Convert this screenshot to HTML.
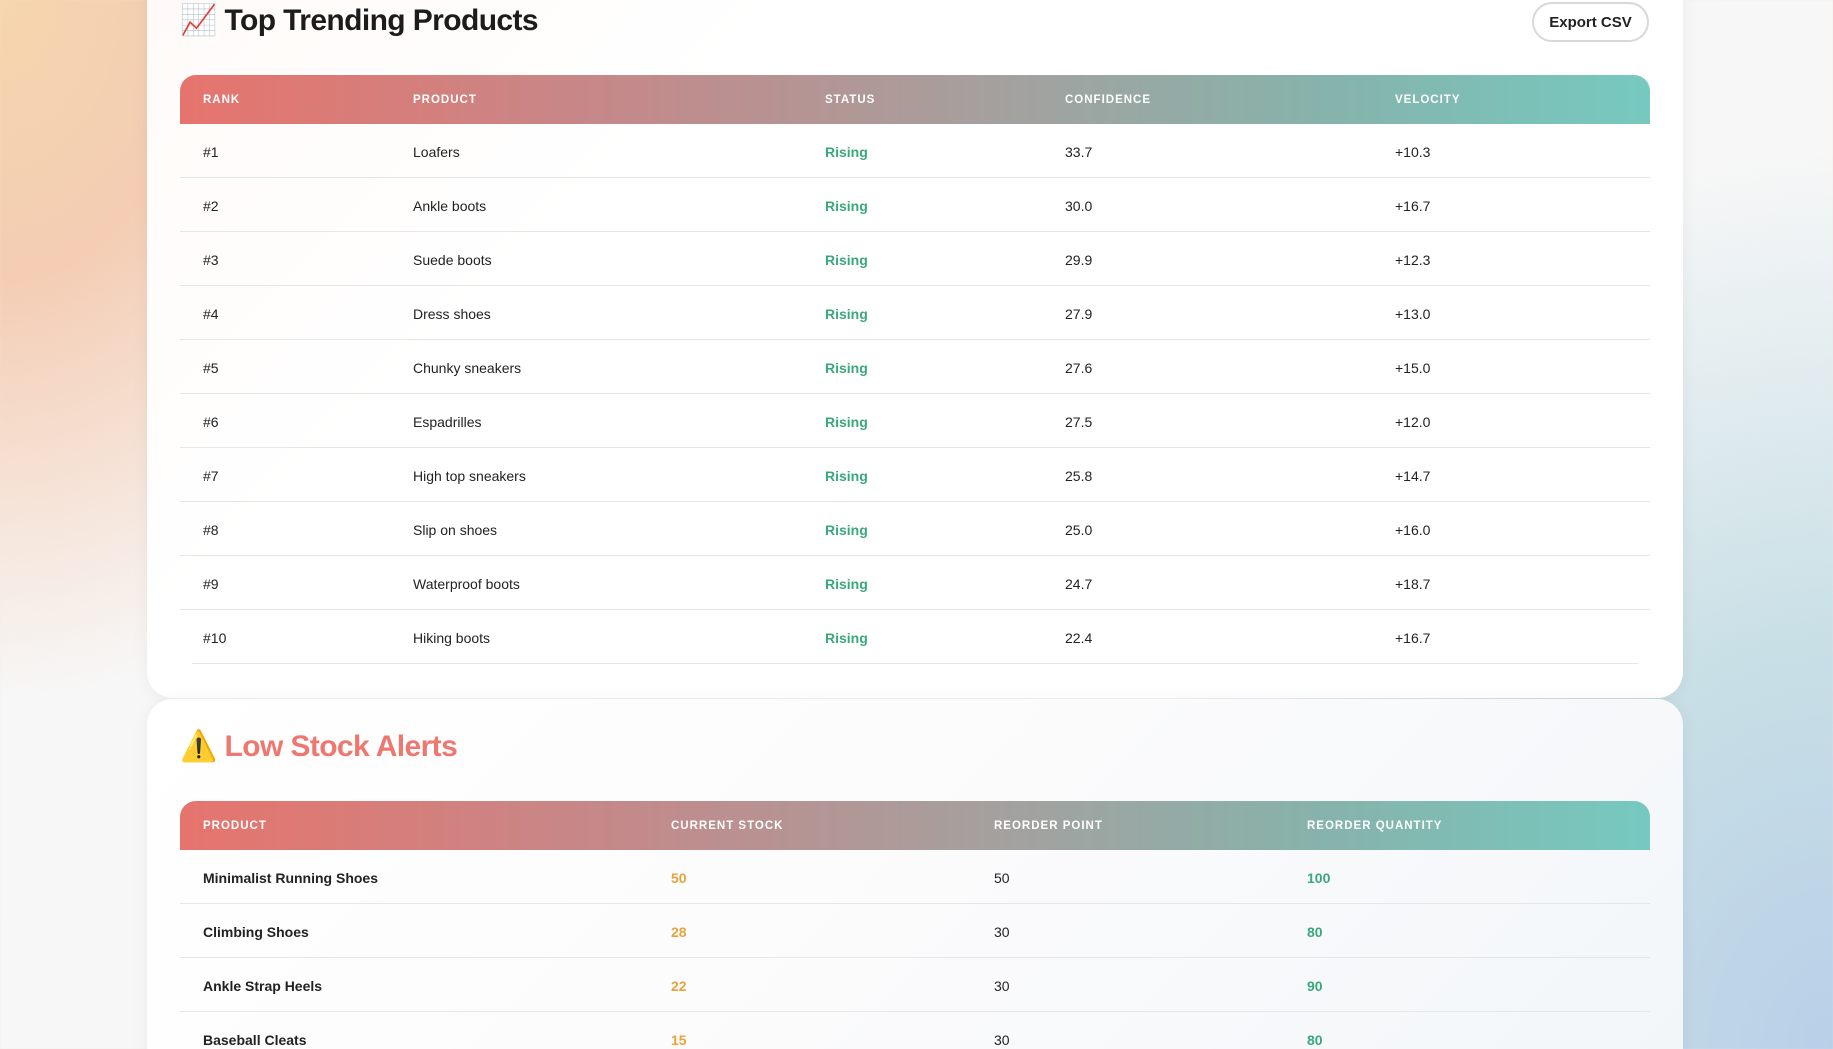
<!DOCTYPE html>
<html><head><meta charset="utf-8"><style>
*{box-sizing:border-box;margin:0;padding:0}
html,body{width:1833px;height:1049px;overflow:hidden}
body{font-family:"Liberation Sans","DejaVu Sans",sans-serif;position:relative;
background:
radial-gradient(ellipse 700px 900px at 1833px 1049px,#b9cfe8 0%,#c8dfe6 45%,rgba(240,244,246,0) 100%),
radial-gradient(ellipse 500px 700px at 0 0,#f5d6ad 0%,#f4cdb4 40%,rgba(248,248,248,0) 100%),
#f7f7f7;}
.card{position:absolute;left:147px;width:1536px;background:#fff;border-radius:26px;box-shadow:0 2px 18px rgba(0,0,0,0.05)}
.c1{top:-30px;height:728px;background:linear-gradient(135deg,#fffaf8 0%,#fff 30%,#fff 100%)}
.c2{top:699px;height:400px;background:linear-gradient(135deg,#fff 0%,#fdfcfd 40%,#f2f6f9 100%)}
h2{position:absolute;font-size:30px;font-weight:bold;letter-spacing:-0.6px;color:#1c1c1c;white-space:nowrap}
.btn{position:absolute;left:1532px;top:2px;width:117px;height:40px;border:2px solid #d8d8d8;border-radius:20px;background:#fff;font-size:15px;font-weight:bold;color:#222;text-align:center;line-height:37px}
.hdr{position:absolute;left:180px;width:1470px;height:49px;border-radius:16px 16px 0 0;background:linear-gradient(90deg,#e6746d 0%,#c4898a 30%,#a5a09e 55%,#86b3ab 78%,#76c9c0 100%)}
.hdr span{position:absolute;top:1px;line-height:49px;color:#fff;font-size:11.5px;font-weight:bold;letter-spacing:1px}
.row{position:absolute;left:180px;width:1470px;height:54px;border-bottom:1.5px solid #e6e6e6}
.row span{position:absolute;top:2px;line-height:52px;font-size:14px;color:#222}
.row .g{color:#3aa87a;font-weight:bold}
.row .o{color:#e8a23c;font-weight:bold}
.row .b{font-weight:bold}
</style></head><body>
<div class="card c1"></div>
<div class="card c2"></div>

<h2 style="left:180px;top:3px">📈 Top Trending Products</h2>
<div class="btn">Export CSV</div>
<div class="hdr" style="top:75px">
<span style="left:23px">RANK</span><span style="left:233px">PRODUCT</span><span style="left:645px">STATUS</span><span style="left:885px">CONFIDENCE</span><span style="left:1215px">VELOCITY</span>
</div>
<div class="row" style="top:124px"><span style="left:23px">#1</span><span style="left:233px">Loafers</span><span class="g" style="left:645px">Rising</span><span style="left:885px">33.7</span><span style="left:1215px">+10.3</span></div>
<div class="row" style="top:178px"><span style="left:23px">#2</span><span style="left:233px">Ankle boots</span><span class="g" style="left:645px">Rising</span><span style="left:885px">30.0</span><span style="left:1215px">+16.7</span></div>
<div class="row" style="top:232px"><span style="left:23px">#3</span><span style="left:233px">Suede boots</span><span class="g" style="left:645px">Rising</span><span style="left:885px">29.9</span><span style="left:1215px">+12.3</span></div>
<div class="row" style="top:286px"><span style="left:23px">#4</span><span style="left:233px">Dress shoes</span><span class="g" style="left:645px">Rising</span><span style="left:885px">27.9</span><span style="left:1215px">+13.0</span></div>
<div class="row" style="top:340px"><span style="left:23px">#5</span><span style="left:233px">Chunky sneakers</span><span class="g" style="left:645px">Rising</span><span style="left:885px">27.6</span><span style="left:1215px">+15.0</span></div>
<div class="row" style="top:394px"><span style="left:23px">#6</span><span style="left:233px">Espadrilles</span><span class="g" style="left:645px">Rising</span><span style="left:885px">27.5</span><span style="left:1215px">+12.0</span></div>
<div class="row" style="top:448px"><span style="left:23px">#7</span><span style="left:233px">High top sneakers</span><span class="g" style="left:645px">Rising</span><span style="left:885px">25.8</span><span style="left:1215px">+14.7</span></div>
<div class="row" style="top:502px"><span style="left:23px">#8</span><span style="left:233px">Slip on shoes</span><span class="g" style="left:645px">Rising</span><span style="left:885px">25.0</span><span style="left:1215px">+16.0</span></div>
<div class="row" style="top:556px"><span style="left:23px">#9</span><span style="left:233px">Waterproof boots</span><span class="g" style="left:645px">Rising</span><span style="left:885px">24.7</span><span style="left:1215px">+18.7</span></div>
<div class="row" style="top:610px;left:192px;width:1446px"><span style="left:11px">#10</span><span style="left:221px">Hiking boots</span><span class="g" style="left:633px">Rising</span><span style="left:873px">22.4</span><span style="left:1203px">+16.7</span></div>

<h2 style="left:180px;top:729px;color:#ee786f">⚠️ Low Stock Alerts</h2>
<div class="hdr" style="top:801px">
<span style="left:23px">PRODUCT</span><span style="left:491px">CURRENT STOCK</span><span style="left:814px">REORDER POINT</span><span style="left:1127px">REORDER QUANTITY</span>
</div>
<div class="row" style="top:850px"><span class="b" style="left:23px">Minimalist Running Shoes</span><span class="o" style="left:491px">50</span><span style="left:814px">50</span><span class="g" style="left:1127px">100</span></div>
<div class="row" style="top:904px"><span class="b" style="left:23px">Climbing Shoes</span><span class="o" style="left:491px">28</span><span style="left:814px">30</span><span class="g" style="left:1127px">80</span></div>
<div class="row" style="top:958px"><span class="b" style="left:23px">Ankle Strap Heels</span><span class="o" style="left:491px">22</span><span style="left:814px">30</span><span class="g" style="left:1127px">90</span></div>
<div class="row" style="top:1012px"><span class="b" style="left:23px">Baseball Cleats</span><span class="o" style="left:491px">15</span><span style="left:814px">30</span><span class="g" style="left:1127px">80</span></div>
</body></html>
